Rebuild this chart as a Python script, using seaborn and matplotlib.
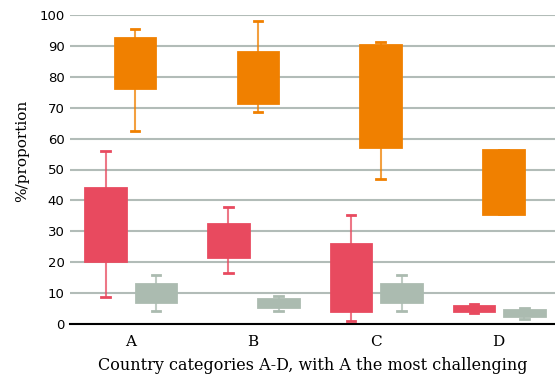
import numpy as np
import pandas as pd
import matplotlib
matplotlib.use("Agg")
import matplotlib.pyplot as plt
import seaborn as sns

categories = ["A", "B", "C", "D"]

# whisker low, box low, box high, whisker high for each category
red_lo = [8.6, 16.4, 1.1, 3.4]
red_q1 = [20.3, 21.7, 4.1, 4.1]
red_q3 = [43.9, 32.5, 26.0, 5.9]
red_hi = [55.9, 37.9, 35.3, 6.5]

orange_lo = [62.4, 68.6, 46.8, 35.6]
orange_q1 = [76.4, 71.6, 57.3, 35.6]
orange_q3 = [92.4, 87.9, 90.3, 56.2]
orange_hi = [95.5, 98.1, 91.4, 56.2]

grey_lo = [4.1, 4.1, 4.1, 1.6]
grey_q1 = [7.1, 5.5, 7.1, 2.5]
grey_q3 = [13.0, 8.2, 13.0, 4.4]
grey_hi = [15.7, 9.2, 15.7, 5.1]

colors = {"red": "#e84a5f", "orange": "#f08000", "grey": "#abbbb0"}
offsets = {"red": -0.20, "orange": 0.04, "grey": 0.21}


def five_num(lo, q1, q3, hi, off):
    rows = []
    for i in range(len(categories)):
        mid = (q1[i] + q3[i]) / 2
        for v in [lo[i], q1[i], mid, q3[i], hi[i]]:
            rows.append({"pos": i + off, "value": v})
    return pd.DataFrame(rows)


series = {
    "red": (red_lo, red_q1, red_q3, red_hi),
    "orange": (orange_lo, orange_q1, orange_q3, orange_hi),
    "grey": (grey_lo, grey_q1, grey_q3, grey_hi),
}

fig = plt.figure(figsize=(5.55, 3.76), dpi=100)
ax = fig.add_axes([70 / 555, 1 - 324 / 376, 485 / 555, 309 / 376])

for name, (lo, q1, q3, hi) in series.items():
    df = five_num(lo, q1, q3, hi, offsets[name])
    col = colors[name]
    sns.boxplot(data=df, x="pos", y="value", native_scale=True, ax=ax,
                color=col, linecolor=col, width=0.33, whis=(0, 100),
                saturation=1, linewidth=1.5, capwidths=0.07,
                boxprops={"linewidth": 2, "facecolor": col, "edgecolor": col,
                          "zorder": 3},
                whiskerprops={"color": col, "alpha": 0.75, "linewidth": 1.5,
                              "zorder": 2},
                capprops={"color": col, "linewidth": 2, "zorder": 2},
                medianprops={"linewidth": 0, "alpha": 0})

ax.set_ylim(0, 100)
ax.set_xlim(-0.49, 3.46)
ax.set_yticks(np.arange(0, 101, 10))
ax.set_xticks(range(len(categories)))
ax.set_xticklabels(categories, family="DejaVu Serif", fontsize=11)
for t in ax.get_yticklabels():
    t.set_family("DejaVu Sans")
    t.set_fontsize(9.5)
ax.tick_params(axis="both", length=0)
ax.tick_params(axis="y", pad=4)
ax.tick_params(axis="x", pad=8)

ax.yaxis.grid(True, color="#b2bcb8", linewidth=1.5)
ax.set_axisbelow(True)
for s in ["left", "right", "top"]:
    ax.spines[s].set_visible(False)
ax.spines["bottom"].set_color("black")
ax.spines["bottom"].set_linewidth(1.5)

ax.set_xlabel("Country categories A-D, with A the most challenging",
              family="DejaVu Serif", fontsize=11.5, labelpad=6)
ax.set_ylabel("%/proportion", family="DejaVu Serif", fontsize=11)
ax.yaxis.set_label_coords(-0.085, 0.56)

fig.savefig("out.png", dpi=100)
